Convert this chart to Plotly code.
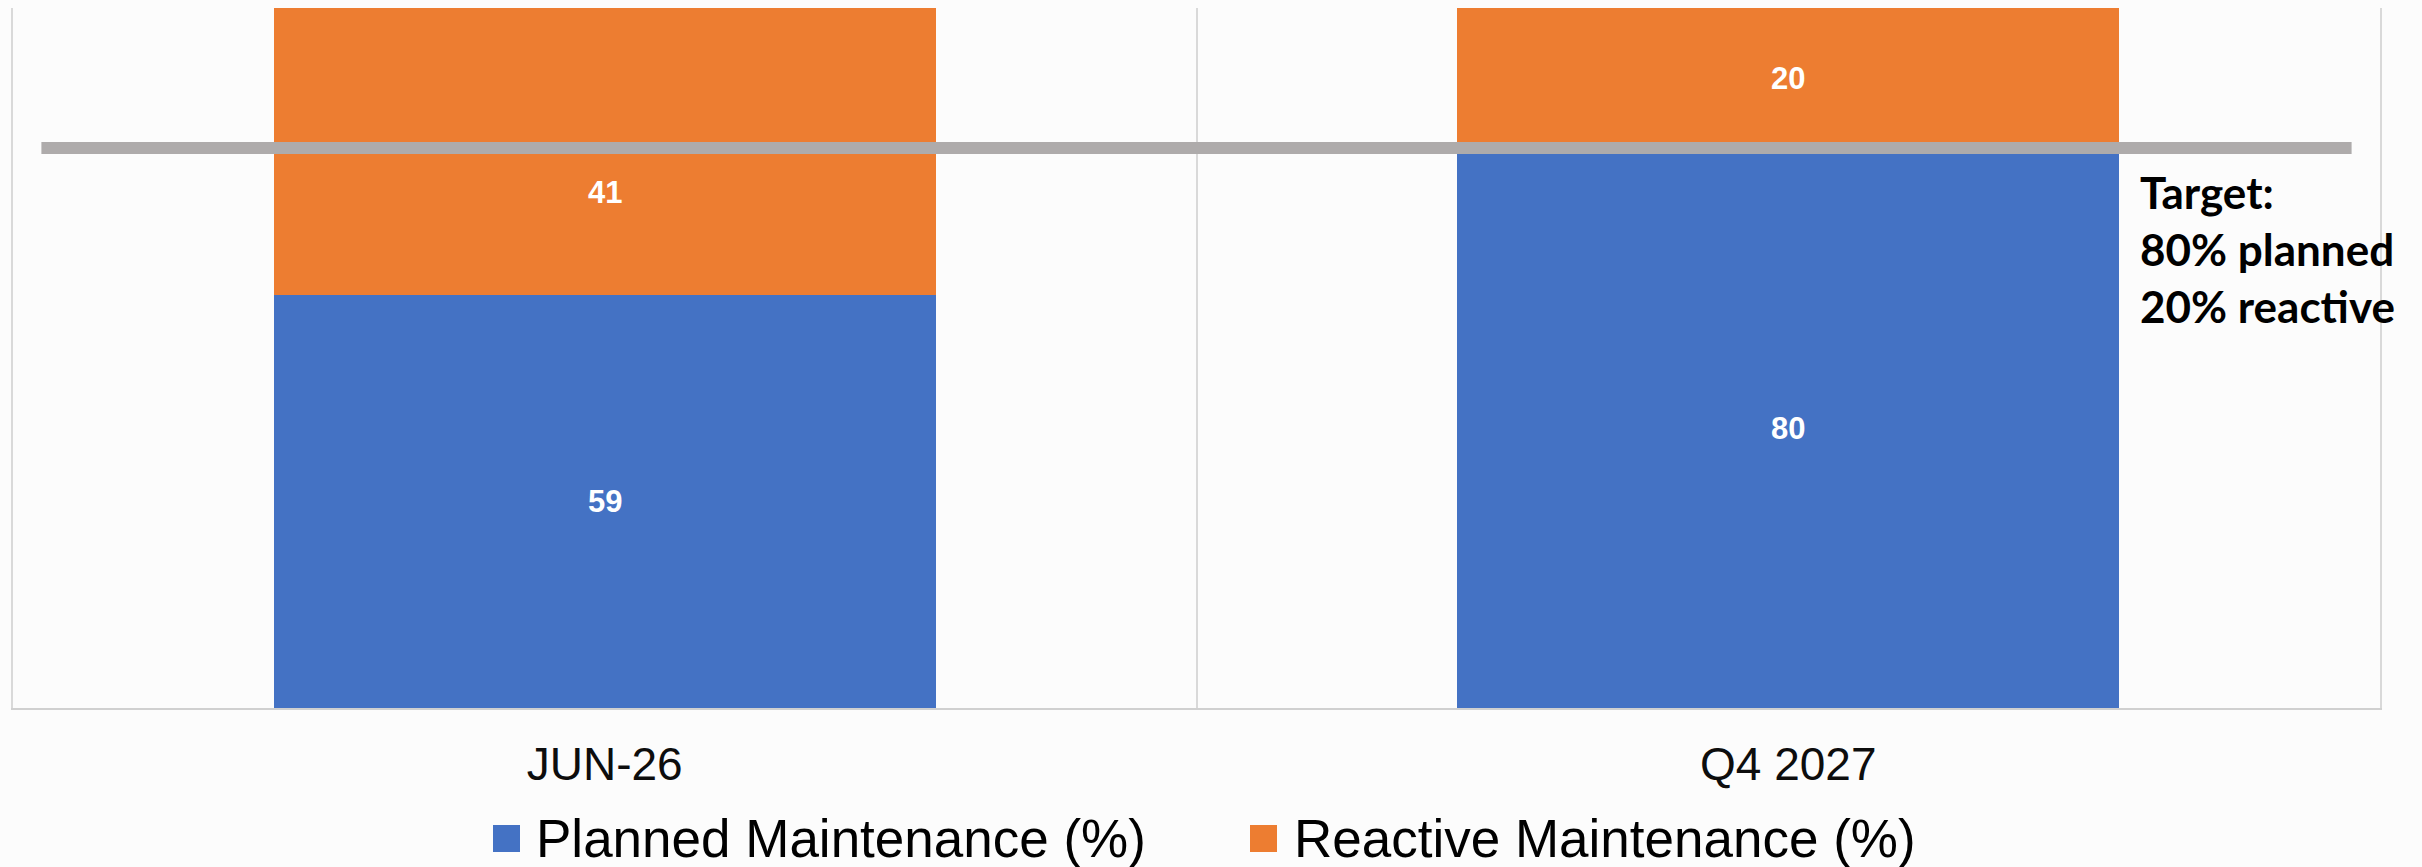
import plotly.graph_objects as go

# ---- data ----
categories = ["JUN-26", "Q4 2027"]
planned = [59, 80]
reactive = [41, 20]
target_planned = 80
series_names = ["Planned Maintenance (%)", "Reactive Maintenance (%)"]
target_lines = ["Target:", "80% planned", "20% reactive"]

BLUE = "#4472C4"
ORANGE = "#ED7D31"
GRAY = "#AEABAB"
BG = "#FCFCFC"

W, H = 2422, 867
ML, MR, MT, MB = 13, 42, 8, 159
PW = W - ML - MR
PH = H - MT - MB


def px_x(px):
    return (px - ML) / PW


def px_y(py):
    return (H - MB - py) / PH


fig = go.Figure()
fig.add_trace(go.Bar(x=categories, y=planned, name=series_names[0],
                     marker=dict(color=BLUE, line=dict(width=0)), showlegend=False))
fig.add_trace(go.Bar(x=categories, y=reactive, name=series_names[1],
                     marker=dict(color=ORANGE, line=dict(width=0)), showlegend=False))

annotations = []
# value labels, centred on each segment
label_font = dict(family="Liberation Sans, Arial, sans-serif", size=31, color="white")
for i, c in enumerate(categories):
    annotations.append(dict(x=c, y=planned[i] / 2, text=f"<b>{planned[i]}</b>",
                            showarrow=False, font=label_font, xref="x", yref="y"))
    shift = -41 if i == 0 else 0
    annotations.append(dict(x=c, y=planned[i] + reactive[i] / 2, text=f"<b>{reactive[i]}</b>",
                            showarrow=False, font=label_font, xref="x", yref="y", yshift=shift))

# target text
annotations.append(dict(x=px_x(2138), y=px_y(164), xref="paper", yref="paper",
                        xanchor="left", yanchor="top", align="left", showarrow=False,
                        text="<br>".join(f"<b>{t}</b>" for t in target_lines),
                        font=dict(family="Lato, Open Sans, sans-serif", size=44, color="black")))

# manual legend
legend_font = dict(family="Liberation Sans, Arial, sans-serif", size=53, color="black")
shapes = []
for sx, tx, col, name in [(493, 534, BLUE, series_names[0]), (1250, 1292, ORANGE, series_names[1])]:
    shapes.append(dict(type="rect", xref="paper", yref="paper",
                       x0=px_x(sx), x1=px_x(sx + 27), y0=px_y(852), y1=px_y(825),
                       fillcolor=col, line=dict(width=0)))
    annotations.append(dict(x=px_x(tx), y=px_y(838), xref="paper", yref="paper",
                            xanchor="left", yanchor="middle", showarrow=False,
                            text=name, font=legend_font))

# target line
shapes.append(dict(type="line", xref="x", yref="y", x0=-0.476, x1=1.476,
                   y0=target_planned, y1=target_planned,
                   line=dict(color=GRAY, width=12)))

fig.update_layout(
    width=W, height=H,
    margin=dict(l=ML, r=MR, t=MT, b=MB),
    barmode="stack", bargap=0.441,
    paper_bgcolor=BG, plot_bgcolor=BG,
    showlegend=False,
    annotations=annotations,
    shapes=shapes,
    xaxis=dict(showgrid=True, gridcolor="#D9D9D9", gridwidth=2, tickson="boundaries",
               ticks="", showline=True, linecolor="#D0D0D0", linewidth=2,
               tickfont=dict(family="Liberation Sans, Arial, sans-serif", size=46, color="#0D0D0D"),
               ticklabelstandoff=15),
    yaxis=dict(range=[0, 100], showgrid=False, showticklabels=False, ticks="",
               showline=True, mirror=True, linecolor="#D9D9D9", linewidth=2, zeroline=False),
)

fig.write_html("out.html")
